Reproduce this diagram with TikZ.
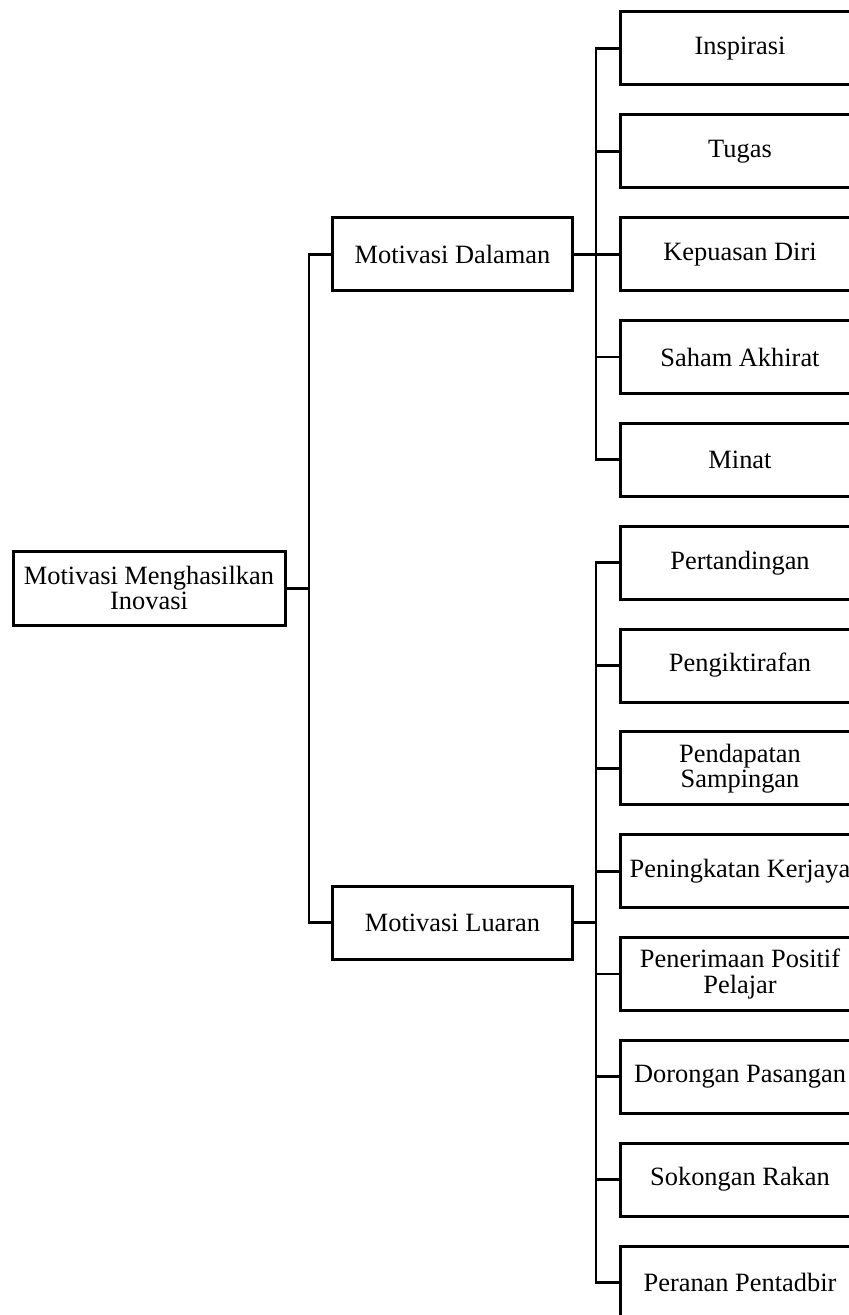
\documentclass[tikz,border=0pt]{standalone}
\usepackage{fontspec}
\setmainfont{Liberation Serif}
\begin{document}
\begin{tikzpicture}[x=0.5pt,y=-0.5pt,
  box/.style={draw,line width=1.5pt,inner sep=0pt,align=center,font=\fontsize{13.2pt}{12.6pt}\selectfont},
  wide/.style={box,minimum width=120pt,minimum height=36.5pt},
  link/.style={line width=1.4pt}]
\clip (0,0) rectangle (849,1315);
\node[box,minimum width=136pt,minimum height=37pt] (root) at (149,588.3) {Motivasi Menghasilkan\\Inovasi};
\node[wide] (dal) at (452.5,254.2) {Motivasi Dalaman};
\node[wide] (lua) at (452.5,922.6) {Motivasi Luaran};
\node[wide] (r0) at (740,48.5) {Inspirasi};
\node[wide] (r1) at (740,151.3) {Tugas};
\node[wide] (r2) at (740,254.2) {Kepuasan Diri};
\node[wide] (r3) at (740,357.0) {Saham Akhirat};
\node[wide] (r4) at (740,459.8) {Minat};
\node[wide] (r5) at (740,562.7) {Pertandingan};
\node[wide] (r6) at (740,665.5) {Pengiktirafan};
\node[wide] (r7) at (740,768.3) {Pendapatan\\Sampingan};
\node[wide] (r8) at (740,871.2) {Peningkatan Kerjaya};
\node[wide] (r9) at (740,974.0) {Penerimaan Positif\\Pelajar};
\node[wide] (r10) at (740,1076.8) {Dorongan Pasangan};
\node[wide] (r11) at (740,1179.6) {Sokongan Rakan};
\node[wide] (r12) at (740,1282.5) {Peranan Pentadbir};
\coordinate (j0) at (309,588.3);
\draw[link] (root.east) -- (j0);
\draw[link] (dal.west) -| (j0) |- (lua.west);
\coordinate (ju) at (596,254.2);
\draw[link] (dal.east) -- (ju);
\foreach \c in {r0,r1,r2,r3,r4} \draw[link] (\c.west) -| (ju);
\coordinate (jl) at (596,922.6);
\draw[link] (lua.east) -- (jl);
\foreach \c in {r5,r6,r7,r8,r9,r10,r11,r12} \draw[link] (\c.west) -| (jl);
\end{tikzpicture}
\end{document}
